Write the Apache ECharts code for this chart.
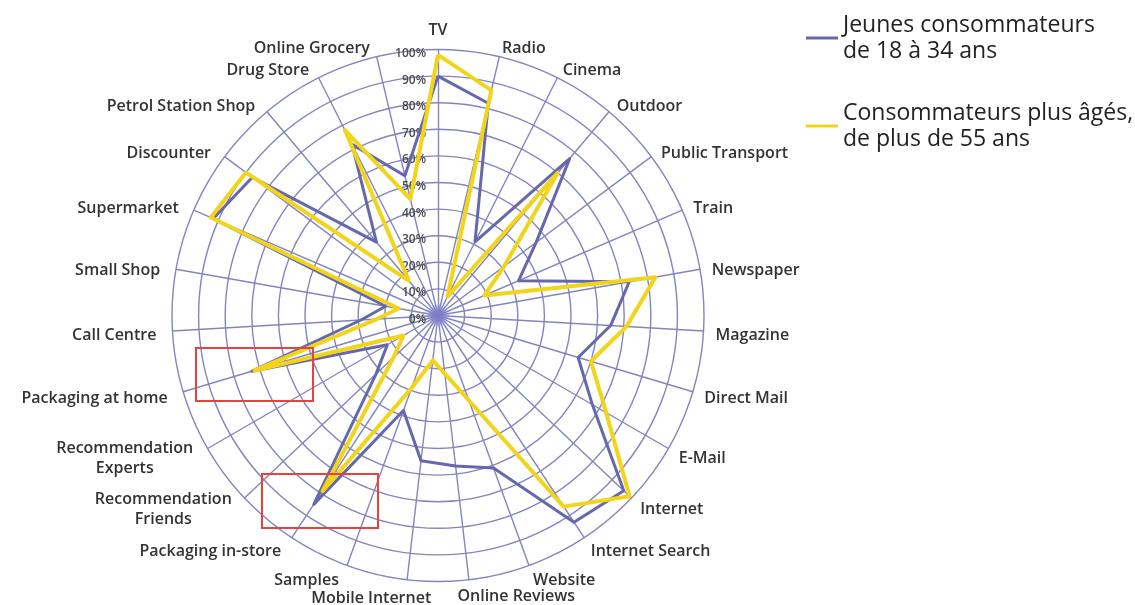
<!DOCTYPE html>
<html>
<head>
<meta charset="utf-8">
<script src="https://cdn.jsdelivr.net/npm/echarts@6/dist/echarts.min.js"></script>
<style>
  html, body { margin: 0; padding: 0; background: #ffffff; }
  #chart { width: 1135px; height: 605px; }
</style>
</head>
<body>
<div id="chart"></div>
<script>
// Media / touchpoints, listed clockwise starting from the top
const channels = [
  'TV', 'Radio', 'Cinema', 'Outdoor', 'Public Transport', 'Train', 'Newspaper',
  'Magazine', 'Direct Mail', 'E-Mail', 'Internet', 'Internet Search', 'Website',
  'Online Reviews', 'Mobile Internet', 'Samples', 'Packaging in-store',
  'Recommendation\nFriends', 'Recommendation\nExperts', 'Packaging at home',
  'Call Centre', 'Small Shop', 'Supermarket', 'Discounter', 'Petrol Station Shop',
  'Drug Store', 'Online Grocery'
];

// Share of respondents (%) per touchpoint, same order as channels
const youngShare = [90, 82, 31, 77, 46, 33, 73, 65, 55, 67, 96, 93, 61, 57, 55, 38, 85, 32, 22, 73, 29, 20, 92, 87, 36, 72, 54];
const olderShare = [98, 87, 8, 70, 31, 19, 83, 71, 60, 73, 99, 86, 34, 22, 17, 29, 79, 23, 15, 72, 23, 15, 93, 90, 17, 78, 45];

const seriesNames = ['Jeunes consommateurs\nde 18 à 34 ans', 'Consommateurs plus âgés,\nde plus de 55 ans'];
const scaleMin = 0;
const scaleMax = 100;
const scaleSteps = 10;

const gridColor = '#8385be';
const youngColor = '#6668ad';
const olderColor = '#f2d41a';
const labelFont = 'Open Sans';

const radarCenter = [438, 315.5];
const radarRadius = 266;

// Per-label placement tweaks for the axis names that sit near the bottom and top
const nameStyleOverrides = {
  'TV': { verticalAlign: 'middle', padding: [0, 0, 15, 0] },
  'Mobile Internet': { align: 'center', padding: [13, 69, 0, 0] },
  'Online Reviews': { align: 'center', padding: [9, 0, 0, 92] }
};

// ECharts lays radar indicators out counter-clockwise, so walk the list backwards after TV
const order = channels.map((_, i) => (channels.length - i) % channels.length);
const reorder = arr => order.map(i => arr[i]);

const indicators = order.map(i => {
  const ind = { name: channels[i], min: scaleMin, max: scaleMax };
  if (nameStyleOverrides[channels[i]]) {
    ind.nameTextStyle = nameStyleOverrides[channels[i]];
  }
  if (i === 0) {
    // percentage scale printed once, along the TV spoke
    ind.axisLabel = {
      show: true,
      formatter: '{value}%',
      fontFamily: labelFont,
      fontSize: 12,
      fontWeight: 600,
      color: '#4a4a4a',
      margin: 12,
      verticalAlign: 'top',
      lineHeight: 8
    };
  }
  return ind;
});

const chart = echarts.init(document.getElementById('chart'), null, { renderer: 'canvas' });

chart.setOption({
  backgroundColor: '#ffffff',
  animation: false,
  legend: {
    orient: 'vertical',
    left: 801,
    top: 7,
    itemGap: 36,
    itemWidth: 32,
    itemHeight: 3,
    icon: 'rect',
    selectedMode: false,
    textStyle: {
      fontFamily: labelFont,
      fontSize: 23,
      lineHeight: 26,
      color: '#222222'
    },
    data: seriesNames
  },
  radar: {
    center: radarCenter,
    radius: radarRadius,
    startAngle: 90,
    shape: 'circle',
    splitNumber: scaleSteps,
    nameGap: 12,
    axisName: {
      color: '#333333',
      fontFamily: labelFont,
      fontSize: 16,
      fontWeight: 600,
      padding: [7, 4, 0, 0],
      formatter: name => name.split('\n').map(s => '{n|' + s + '}').join('\n'),
      rich: {
        n: {
          align: 'center',
          fontFamily: labelFont,
          fontSize: 16,
          fontWeight: 600,
          color: '#333333',
          lineHeight: 20
        }
      }
    },
    axisLine: { lineStyle: { color: gridColor, width: 1.4 } },
    splitLine: { lineStyle: { color: gridColor, width: 1.4 } },
    splitArea: { show: false },
    axisTick: { show: false },
    axisLabel: { show: false },
    indicator: indicators
  },
  series: [{
    type: 'radar',
    symbol: 'none',
    silent: true,
    z: 3,
    data: [
      {
        name: seriesNames[0],
        value: reorder(youngShare),
        itemStyle: { color: youngColor },
        lineStyle: { color: youngColor, width: 3 }
      },
      {
        name: seriesNames[1],
        value: reorder(olderShare),
        itemStyle: { color: olderColor },
        lineStyle: { color: olderColor, width: 4 }
      }
    ]
  }],
  graphic: [
    {
      // soft hub where all spokes meet
      type: 'circle',
      shape: { cx: radarCenter[0], cy: radarCenter[1], r: 12 },
      style: {
        fill: {
          type: 'radial', x: 0.5, y: 0.5, r: 0.5,
          colorStops: [
            { offset: 0, color: 'rgba(120,120,200,0.95)' },
            { offset: 0.55, color: 'rgba(130,130,205,0.7)' },
            { offset: 1, color: 'rgba(140,140,210,0)' }
          ]
        }
      },
      silent: true,
      z: 2
    },
    {
      type: 'rect',
      shape: { x: 196, y: 348, width: 117, height: 53 },
      style: { fill: 'none', stroke: '#e5433b', lineWidth: 2 },
      z: 100
    },
    {
      type: 'rect',
      shape: { x: 262, y: 474, width: 116, height: 54 },
      style: { fill: 'none', stroke: '#e5433b', lineWidth: 2 },
      z: 100
    }
  ]
});
</script>
</body>
</html>
